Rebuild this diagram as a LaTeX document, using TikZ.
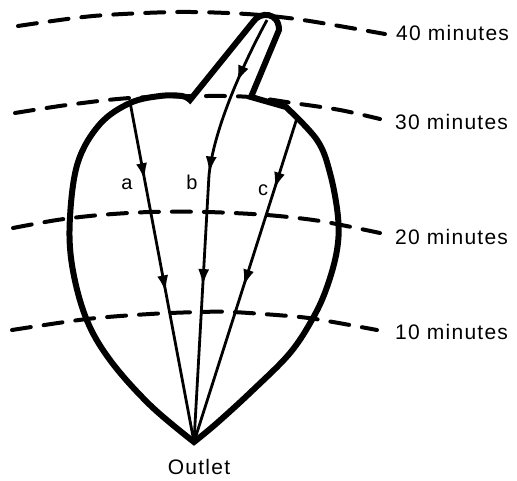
\documentclass[tikz,border=0pt]{standalone}
\usepackage{fontspec}
\setmainfont{Liberation Sans}
\newfontfamily\labelfont[LetterSpace=6]{Liberation Sans}
\usetikzlibrary{arrows.meta,decorations.markings}

\begin{document}
\begin{tikzpicture}[x=1pt, y=-1pt,
  font=\labelfont\fontsize{21}{24}\selectfont,
  isoline/.style={line width=4pt, dash pattern=on 19pt off 13pt, line cap=round},
  boundary/.style={line width=6pt},
  flowline/.style={line width=2.8pt},
  arrowat/.style={postaction={decorate, decoration={markings,
               mark=at position #1 with {\arrow{Latex[length=17pt, width=11pt]}}}}},
  minlabel/.style={anchor=west, inner sep=0pt},
  letter/.style={inner sep=0pt, font=\labelfont\fontsize{20}{22}\selectfont}
]
\useasboundingbox (0,0) rectangle (517,480);

% time lines
\draw[isoline] plot[smooth] coordinates {(18,26) (93,16) (177,12) (247,14) (303,20) (385,34)};
\draw[isoline] plot[smooth] coordinates {(15,113) (67,105) (130,98) (207,96) (250,97) (293,103) (340,110) (380,119)};
\draw[isoline] plot[smooth] coordinates {(13,228) (57,220) (100,215) (150,212) (207,212) (267,215) (320,221) (380,233)};
\draw[isoline] plot[smooth] coordinates {(12,330) (87,319) (150,314) (200,312) (233,312) (300,317) (333,322) (377,330)};
\node[minlabel] (t40) at (396,33) {40 minutes};
\node[minlabel] (t30) at (395,122) {30 minutes};
\node[minlabel] (t20) at (395,237) {20 minutes};
\node[minlabel] (t10) at (395,332) {10 minutes};

% catchment outline
\coordinate (outlet) at (194,442);
\draw[boundary] plot[smooth, tension=0.6] coordinates {(194,442) (150,405) (110,360) (86,318) (72,265) (70,217) (78,162) (100,124) (130,103) (160,96) (182,96) (190,100)}
  -- (253,22) .. controls (260,11) and (279,12) .. (279,30)
  -- (251,97) -- (286,107)
  -- plot[smooth, tension=0.6] coordinates {(286,107) (317,140) (330,173) (338,217) (337,250) (327,287) (313,318) (290,353) (253,390) (217,423) (194,442)}
  -- cycle;

% flow paths
\coordinate (srcA) at (130,102);
\coordinate (srcB) at (267,20);
\coordinate (srcC) at (297,118);
\draw[flowline, arrowat=0.23, arrowat=0.56] (srcA) -- (outlet);
\draw[flowline, arrowat=0.16, arrowat=0.38, arrowat=0.64] (srcB) .. controls (240,70) and (214,130) .. (209,175) -- (outlet);
\draw[flowline, arrowat=0.22, arrowat=0.52] (srcC) -- (outlet);

\node[letter] (la) at (127,184) {a};
\node[letter] (lb) at (192,182) {b};
\node[letter] (lc) at (263,190) {c};
\node (outletlabel) at (199,467) {Outlet};
\end{tikzpicture}
\end{document}
